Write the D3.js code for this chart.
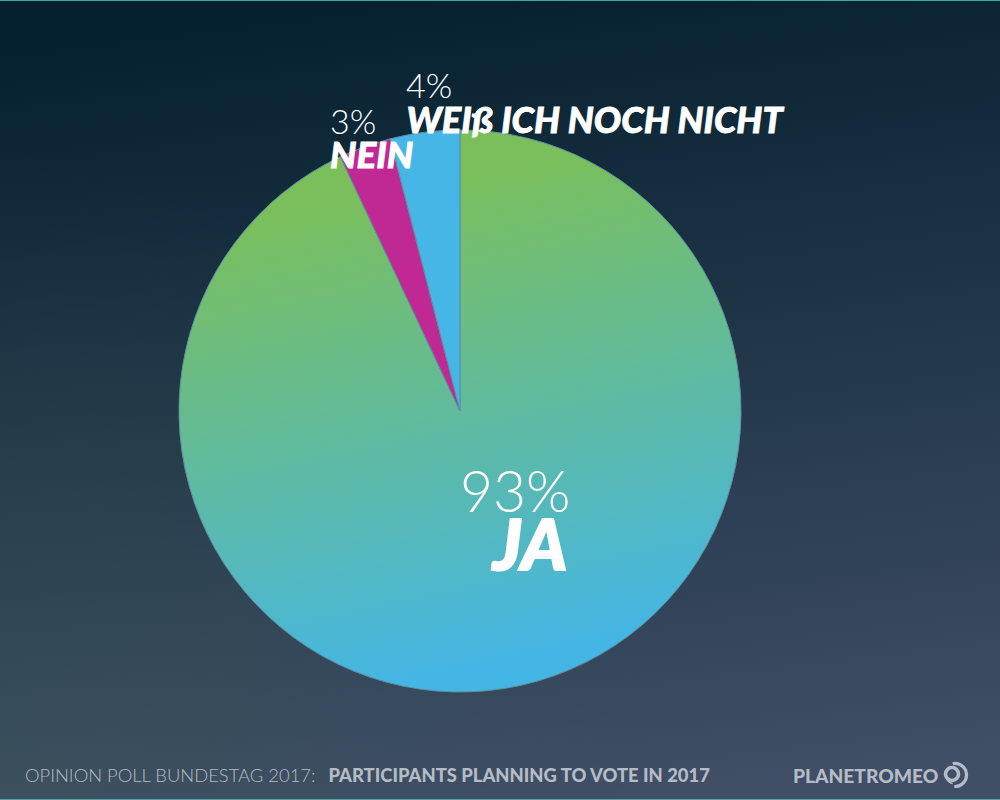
<!DOCTYPE html>
<html>
<head>
<meta charset="utf-8">
<script src="https://cdn.jsdelivr.net/npm/d3@7"></script>
<style>
html,body{margin:0;padding:0;background:#06222f;overflow:hidden}
svg{display:block}
text{font-family:Lato,"Open Sans",sans-serif;fill:#fff}
.pct{font-weight:300}
.lab{font-weight:900;font-style:italic;stroke:#fff}
</style>
</head>
<body>
<script>
var categories = ["JA","NEIN","WEIß ICH NOCH NICHT"];
var values = [93,3,4];
var sliceColors = ["url(#pieGrad)","#c02893","#45b6e6"];

var width = 1000, height = 800;
var svg = d3.select("body").append("svg").attr("width",width).attr("height",height);
var defs = svg.append("defs");

// BACKGROUND
var bg = defs.append("linearGradient").attr("id","bgGrad")
    .attr("x1",0.42).attr("y1",0).attr("x2",0.58).attr("y2",1);
bg.append("stop").attr("offset","0%").attr("stop-color","#05212f");
bg.append("stop").attr("offset","100%").attr("stop-color","#404e66");

// teal cast in the lower left corner
var tint = defs.append("radialGradient").attr("id","bgTint")
    .attr("gradientUnits","userSpaceOnUse")
    .attr("cx",0).attr("cy",height).attr("r",650);
tint.append("stop").attr("offset","0%").attr("stop-color","#3f5f55").attr("stop-opacity",0.3);
tint.append("stop").attr("offset","100%").attr("stop-color","#3f5f55").attr("stop-opacity",0);

// pie group sits at 460,411 so the gradient is in its local coordinates
var pg = defs.append("linearGradient").attr("id","pieGrad")
    .attr("gradientUnits","userSpaceOnUse")
    .attr("x1",-50).attr("y1",-225).attr("x2",50).attr("y2",255);
pg.append("stop").attr("offset","0%").attr("stop-color","#7abf5c");
pg.append("stop").attr("offset","100%").attr("stop-color","#44b6e6");

svg.append("rect").attr("width",width).attr("height",height).attr("fill","url(#bgGrad)");
svg.append("rect").attr("width",width).attr("height",height).attr("fill","url(#bgTint)");
svg.append("rect").attr("width",width).attr("height",1).attr("fill","#3fa99f");
svg.append("rect").attr("y",height-1).attr("width",width).attr("height",1).attr("fill","#4fa5a8");

// PIE
var pie = d3.pie().sort(null)(values);
var arc = d3.arc().innerRadius(0).outerRadius(281);
var g = svg.append("g").attr("transform","translate(460,411)");
g.selectAll("path").data(pie).join("path")
    .attr("d",arc)
    .attr("fill",(d,i) => sliceColors[i])
    .attr("stroke","#5f8f9f")
    .attr("stroke-width",1);

// LABELS
function label(i,x1,y1,s1,x2,y2,s2,sw){
    svg.append("text").attr("class","pct").attr("x",x1).attr("y",y1)
        .style("font-size",s1+"px").text(values[i]+"%");
    svg.append("text").attr("class","lab").attr("x",x2).attr("y",y2)
        .style("font-size",s2+"px").style("stroke-width",sw).text(categories[i]);
}
label(0,460,512,57,493,570,70,2);
label(1,330,134,34,330,168,36.8,0.8);
label(2,406,98,34,406.5,133,36.2,0.8);

// FOOTER
var foot = svg.append("text").attr("x",25).attr("y",782)
    .style("font-size","18.4px").style("fill","#b4bcc6");
foot.append("tspan").style("font-weight",300).text("OPINION POLL BUNDESTAG 2017:");
foot.append("tspan").attr("dx",13).style("font-weight",900).text("PARTICIPANTS PLANNING TO VOTE IN 2017");

svg.append("text").attr("x",793).attr("y",783)
    .style("font-size","19.2px").style("font-weight",900).style("fill","#b4bcc6")
    .text("PLANETROMEO");

// logo mark
var logo = svg.append("g").attr("transform","translate(955,775)")
    .attr("fill","none").attr("stroke","#b4bcc6");
logo.append("path").attr("stroke-width",3.2)
    .attr("d",d3.arc()({innerRadius:11.5,outerRadius:11.5,startAngle:-0.2,endAngle:3.2}));
logo.append("circle").attr("cx",-3).attr("cy",-1).attr("r",6.5).attr("stroke-width",3.6);
logo.append("path").attr("stroke-width",1.6)
    .attr("d",d3.arc()({innerRadius:9,outerRadius:9,startAngle:3.4,endAngle:5.6}));
</script>
</body>
</html>
